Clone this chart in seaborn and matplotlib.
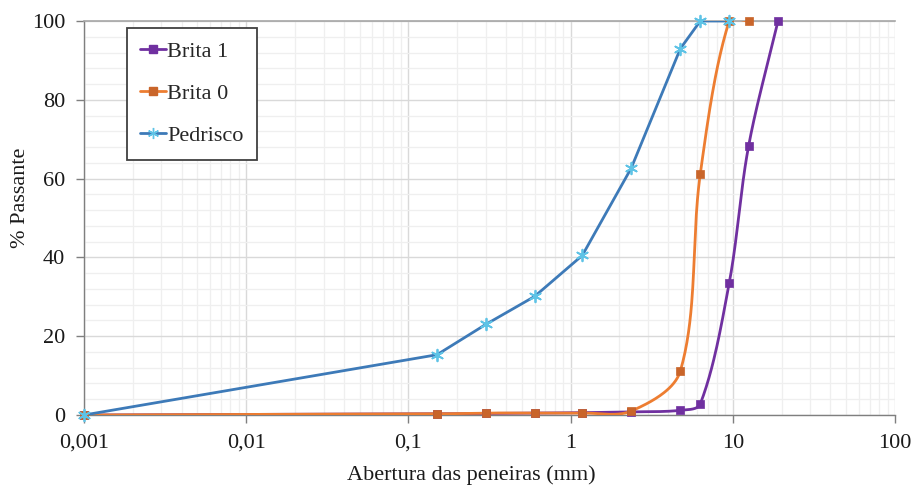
import numpy as np
import pandas as pd
import matplotlib
matplotlib.use("Agg")
import matplotlib.pyplot as plt
import seaborn as sns
from matplotlib.ticker import FixedLocator, NullFormatter
from matplotlib.lines import Line2D

# ---- data ----
sieves_b1 = [0.001, 0.15, 0.3, 0.6, 1.18, 2.36, 4.75, 6.3, 9.5, 12.5, 19.0]
brita1 = [0.0, 0.3, 0.4, 0.5, 0.6, 0.8, 1.2, 2.8, 33.5, 68.2, 100.0]

sieves_b0 = [0.001, 0.15, 0.3, 0.6, 1.18, 2.36, 4.75, 6.3, 9.5, 12.5]
brita0 = [0.0, 0.3, 0.5, 0.5, 0.5, 1.0, 11.2, 61.2, 100.0, 100.0]

sieves_pd = [0.001, 0.15, 0.3, 0.6, 1.18, 2.36, 4.75, 6.3, 9.5]
pedrisco = [0.0, 15.3, 23.0, 30.1, 40.5, 62.6, 93.0, 100.0, 100.0]

series_names = ["Brita 1", "Brita 0", "Pedrisco"]
xtick_vals = [0.001, 0.01, 0.1, 1, 10, 100]
xtick_labels = ["0,001", "0,01", "0,1", "1", "10", "100"]
ytick_vals = [0, 20, 40, 60, 80, 100]

line_colors = ["#7030A0", "#ED7D31", "#3D7AB8"]
marker_colors = ["#7030A0", "#C9652A", "#5EC3E6"]
smoothed = [True, True, False]

# ---- smooth rendering (Bezier through the points, chord-length scaled) ----
SX, SY = 162.2, 3.94


def render_path(xs, ys, do_smooth, n=40):
    if not do_smooth:
        return np.asarray(xs, float), np.asarray(ys, float)
    u = np.log10(np.asarray(xs, float)) * SX
    v = np.asarray(ys, float) * SY
    P = np.column_stack([u, v])
    m = len(P)
    d = np.linalg.norm(np.diff(P, axis=0), axis=1)
    out = [P[0]]
    for i in range(m - 1):
        p1, p2 = P[i], P[i + 1]
        if i > 0:
            t1 = (P[i + 1] - P[i - 1]) * d[i] / (d[i - 1] + d[i]) / 3.0
        else:
            t1 = (P[i + 1] - P[i]) / 3.0
        if i + 2 < m:
            t2 = (P[i + 2] - P[i]) * d[i] / (d[i] + d[i + 1]) / 3.0
        else:
            t2 = (P[i + 1] - P[i]) / 3.0
        c1 = p1 + t1
        c2 = p2 - t2
        t = np.linspace(0, 1, n)[1:, None]
        seg = ((1 - t) ** 3) * p1 + 3 * ((1 - t) ** 2) * t * c1 + 3 * (1 - t) * t ** 2 * c2 + t ** 3 * p2
        out.extend(seg)
    out = np.array(out)
    return 10 ** (out[:, 0] / SX), out[:, 1] / SY


sns.set_style("white")
plt.rcParams["font.family"] = ["Liberation Serif", "DejaVu Serif"]

fig = plt.figure(figsize=(9.12, 4.87), dpi=100)
ax = fig.add_axes([0.0921, 0.1478, 0.8893, 0.8091])

all_data = [(sieves_b1, brita1), (sieves_b0, brita0), (sieves_pd, pedrisco)]
markers = ["s", "s", (6, 2, 0)]
msizes = [28, 36, 70]

for k in [0, 1, 2]:
    xs, ys = all_data[k]
    sx, sy = render_path(xs, ys, smoothed[k])
    df_line = pd.DataFrame({"x": sx, "y": sy})
    sns.lineplot(data=df_line, x="x", y="y", sort=False, estimator=None,
                 color=line_colors[k], linewidth=2.0, ax=ax, zorder=3 + k)
    df_pts = pd.DataFrame({"x": xs, "y": ys})
    sns.scatterplot(data=df_pts, x="x", y="y", marker=markers[k], s=msizes[k],
                    color=marker_colors[k],
                    edgecolor=marker_colors[k] if k < 2 else None,
                    linewidth=0.5 if k < 2 else 1.3, ax=ax, zorder=6 + k,
                    clip_on=False)

ax.set_xscale("log")
ax.set_xlim(0.001, 100)
ax.set_ylim(0, 100)

# grid
minor_x = [m * 10.0 ** e for e in range(-3, 2) for m in range(2, 10)]
ax.xaxis.set_minor_locator(FixedLocator(minor_x))
ax.xaxis.set_minor_formatter(NullFormatter())
ax.yaxis.set_minor_locator(FixedLocator(list(range(0, 101, 4))))
ax.set_xticks(xtick_vals)
ax.set_xticklabels(xtick_labels)
ax.set_yticks(ytick_vals)
ax.grid(True, which="major", color="#d9d9d9", linewidth=1.0, zorder=0)
ax.grid(True, which="minor", color="#efefef", linewidth=0.9, zorder=0)
ax.set_axisbelow(True)

for side in ["left", "bottom"]:
    ax.spines[side].set_visible(True)
    ax.spines[side].set_color("#7f7f7f")
    ax.spines[side].set_linewidth(1.0)
ax.spines["top"].set_visible(True)
ax.spines["top"].set_color("#a6a6a6")
ax.spines["top"].set_linewidth(1.2)
ax.spines["right"].set_visible(False)

ax.tick_params(axis="both", which="major", direction="out", length=5.5, width=1.0,
               color="#7f7f7f", labelsize=16, labelcolor="#1a1a1a")
ax.tick_params(axis="x", which="major", pad=8, bottom=True)
ax.tick_params(axis="y", which="major", pad=8, left=True)
ax.tick_params(axis="both", which="minor", length=0)

ax.set_xlabel("Abertura das peneiras (mm)", fontsize=16, color="#1a1a1a")
ax.xaxis.set_label_coords(0.477, -0.128)
ax.set_ylabel("% Passante", fontsize=16, color="#1a1a1a")
ax.yaxis.set_label_coords(-0.066, 0.55)

# legend
handles = [Line2D([], [], color=line_colors[k], marker=markers[k], markersize=6 if k < 2 else 8,
                  markerfacecolor=marker_colors[k], markeredgecolor=marker_colors[k], linewidth=2)
           for k in range(3)]
leg = ax.legend(handles, series_names, loc="upper left", bbox_to_anchor=(0.053, 0.983),
                fontsize=16, frameon=True, fancybox=False, framealpha=1,
                edgecolor="#404040", handlelength=1.15, handletextpad=0.05,
                labelspacing=0.98, borderpad=0.6, borderaxespad=0)
leg.get_frame().set_linewidth(1.3)
leg.set_zorder(20)

fig.savefig("out.png", dpi=100)
